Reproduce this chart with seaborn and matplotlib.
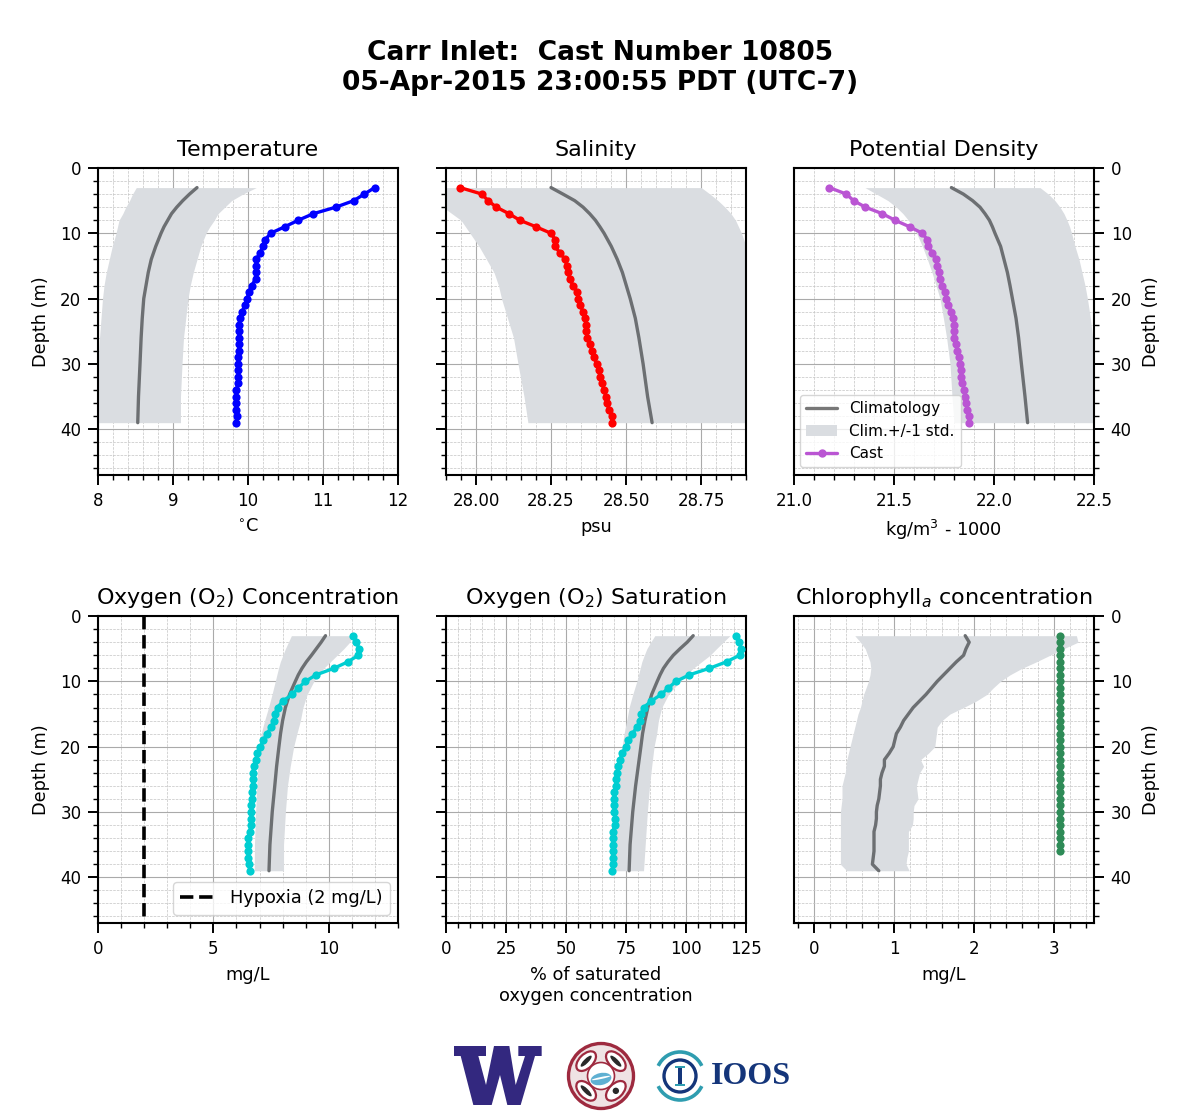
import numpy as np
import matplotlib
matplotlib.use("Agg")
import matplotlib.pyplot as plt
from matplotlib.patches import Circle, Arc, Rectangle, Polygon, Ellipse
from matplotlib.ticker import MultipleLocator, FormatStrFormatter
import seaborn as sns

sns.set_theme(style="ticks")
plt.rcParams['font.family'] = ['DejaVu Sans']
plt.rcParams['mathtext.default'] = 'regular'

cast_depth = list(range(3, 40))
chl_depth = list(range(3, 37))
clim_d = [3, 4, 5, 6, 7, 8, 9, 10, 12, 14, 16, 18, 20, 23, 26, 30, 35, 39]

temp_cast = [11.69,11.55,11.41,11.17,10.87,10.67,10.49,10.30,10.23,10.20,10.16,10.11,10.11,10.10,10.10,10.05,10.01,9.99,9.96,9.92,9.89,9.88,9.88,9.88,9.88,9.88,9.87,9.87,9.87,9.87,9.87,9.84,9.84,9.84,9.84,9.85,9.84]
temp_clim = [9.32,9.22,9.13,9.05,8.98,8.93,8.88,8.84,8.77,8.71,8.67,8.64,8.61,8.59,8.575,8.56,8.54,8.53]
temp_low = [8.51,8.46,8.42,8.37,8.33,8.28,8.26,8.24,8.19,8.15,8.11,8.08,8.06,8.04,8.02,8.00,7.98,7.97]
temp_high = [10.11,9.93,9.78,9.69,9.60,9.55,9.49,9.44,9.37,9.32,9.27,9.23,9.20,9.17,9.14,9.12,9.10,9.10]

sal_cast = [27.947,28.02,28.04,28.068,28.11,28.146,28.20,28.25,28.264,28.263,28.28,28.297,28.303,28.307,28.313,28.323,28.337,28.341,28.347,28.357,28.362,28.367,28.367,28.37,28.38,28.387,28.393,28.403,28.41,28.413,28.42,28.427,28.433,28.437,28.443,28.453,28.453]
sal_clim = [28.25,28.29,28.329,28.357,28.379,28.398,28.413,28.427,28.451,28.471,28.488,28.501,28.514,28.531,28.543,28.557,28.572,28.587]
sal_low = [27.75,27.80,27.85,27.89,27.92,27.95,27.965,27.98,28.01,28.035,28.06,28.075,28.085,28.105,28.125,28.14,28.16,28.173]
sal_high = [28.751,28.78,28.807,28.83,28.85,28.865,28.875,28.885,28.90,28.93,28.95,28.97,29.0,29.03,29.05,29.08,29.1,29.1]

dens_cast = [21.177,21.262,21.298,21.357,21.442,21.505,21.578,21.642,21.667,21.672,21.692,21.71,21.717,21.723,21.728,21.742,21.757,21.762,21.772,21.787,21.797,21.802,21.802,21.802,21.812,21.817,21.827,21.832,21.837,21.837,21.842,21.852,21.857,21.862,21.867,21.877,21.877]
dens_clim = [21.787,21.847,21.893,21.93,21.955,21.977,21.992,22.005,22.033,22.05,22.067,22.08,22.092,22.11,22.123,22.137,22.155,22.168]
dens_low = [21.355,21.413,21.47,21.512,21.545,21.572,21.595,21.613,21.642,21.667,21.69,21.71,21.73,21.747,21.763,21.78,21.79,21.80]
dens_high = [22.23,22.272,22.305,22.33,22.35,22.365,22.378,22.388,22.405,22.425,22.44,22.455,22.467,22.482,22.493,22.503,22.51,22.52]

oxy_cast = [11.04,11.19,11.32,11.28,10.83,10.22,9.45,8.99,8.68,8.42,8.01,7.78,7.67,7.61,7.51,7.32,7.17,7.04,6.91,6.83,6.74,6.71,6.70,6.70,6.68,6.67,6.65,6.65,6.64,6.62,6.57,6.52,6.52,6.52,6.52,6.54,6.57]
oxy_clim = [9.86,9.67,9.46,9.25,9.03,8.84,8.68,8.55,8.30,8.12,8.00,7.91,7.84,7.74,7.66,7.55,7.45,7.41]
oxy_low = [8.38,8.25,8.12,8.01,7.90,7.82,7.75,7.68,7.54,7.39,7.22,7.07,6.96,6.92,6.88,6.83,6.78,6.77]
oxy_high = [11.01,10.91,10.65,10.36,10.07,9.78,9.55,9.35,9.06,8.88,8.77,8.62,8.48,8.33,8.21,8.12,8.04,8.04]

sat_cast = [120.9,122.2,123.0,122.3,116.9,109.7,101.4,95.8,92.7,89.6,85.6,82.3,81.4,81.0,79.5,77.7,76.0,74.8,73.5,72.4,71.6,71.2,71.0,70.7,70.2,70.1,70.2,70.2,70.6,70.5,69.4,69.4,69.4,69.4,69.4,69.4,69.3]
sat_clim = [103.0,100.5,97.5,94.7,92.5,90.6,89.2,88.0,85.7,84.1,82.9,81.9,81.2,80.1,79.0,77.8,76.7,76.3]
sat_low = [87.0,85.3,83.7,82.6,81.6,80.9,80.2,79.5,77.8,76.3,75.3,74.2,73.4,72.5,71.7,70.9,70.2,69.8]
sat_high = [118.3,115.5,112.7,110.0,106.5,103.0,100.0,97.5,92.7,89.9,88.5,87.8,86.7,85.7,84.8,83.9,83.0,82.3]

chl_cast = [3.07] * 34
chl_clim_d = list(range(3, 40))
chl_clim = [1.89,1.94,1.90,1.87,1.78,1.70,1.62,1.54,1.47,1.40,1.32,1.24,1.18,1.12,1.08,1.03,1.01,0.99,0.94,0.88,0.88,0.85,0.83,0.83,0.82,0.81,0.79,0.78,0.78,0.77,0.75,0.75,0.75,0.75,0.74,0.73,0.81]
chl_low = [0.51,0.58,0.64,0.67,0.70,0.71,0.70,0.68,0.65,0.62,0.60,0.58,0.55,0.53,0.51,0.49,0.47,0.45,0.43,0.41,0.40,0.39,0.37,0.35,0.35,0.35,0.34,0.33,0.33,0.33,0.33,0.33,0.33,0.33,0.33,0.33,0.41]
chl_high = [3.28,3.30,3.12,2.95,2.78,2.60,2.45,2.33,2.24,2.16,2.03,1.87,1.70,1.60,1.54,1.53,1.52,1.51,1.43,1.33,1.37,1.32,1.30,1.28,1.29,1.30,1.25,1.24,1.24,1.23,1.18,1.18,1.18,1.18,1.16,1.15,1.19]

hypoxia_x = [2, 2]
hypoxia_y = [0, 47]

titles = ['Temperature', 'Salinity', 'Potential Density',
          'Oxygen (O$_2$) Concentration', 'Oxygen (O$_2$) Saturation',
          'Chlorophyll$_{\\mathit{a}}$ concentration']
xlabels = ['$^{\\circ}$C', 'psu', 'kg/m$^3$ - 1000', 'mg/L',
           '% of saturated\noxygen concentration', 'mg/L']
suptitle = 'Carr Inlet:  Cast Number 10805\n05-Apr-2015 23:00:55 PDT (UTC-7)'

BAND = '#dadde1'
CLIM = '#6c6f72'

panels = [
    (cast_depth, temp_cast, clim_d, temp_clim, clim_d, temp_low, temp_high, 'blue', (8, 12), 1, 0.2, '%d'),
    (cast_depth, sal_cast, clim_d, sal_clim, clim_d, sal_low, sal_high, 'red', (27.9, 28.9), 0.25, 0.05, '%.2f'),
    (cast_depth, dens_cast, clim_d, dens_clim, clim_d, dens_low, dens_high, 'mediumorchid', (21, 22.5), 0.5, 0.1, '%.1f'),
    (cast_depth, oxy_cast, clim_d, oxy_clim, clim_d, oxy_low, oxy_high, 'darkturquoise', (0, 13), 5, 1, '%d'),
    (cast_depth, sat_cast, clim_d, sat_clim, clim_d, sat_low, sat_high, 'darkturquoise', (0, 125), 25, 5, '%d'),
    (chl_depth, chl_cast, chl_clim_d, chl_clim, chl_clim_d, chl_low, chl_high, 'seagreen', (-0.25, 3.5), 1, 0.2, '%d'),
]

fig, axes = plt.subplots(2, 3, figsize=(12, 11.2), dpi=100)
fig.subplots_adjust(left=98/1200, right=1094/1200, top=1-168/1120, bottom=1-923/1120,
                    wspace=0.16, hspace=0.46)

for i, (ax, p) in enumerate(zip(axes.flat, panels)):
    d, v, cd, cv, bd, lo, hi, col, xlim, maj, mnr, fmt = p
    ax.fill_betweenx(bd, lo, hi, color=BAND, lw=0, zorder=1)
    sns.lineplot(x=cv, y=cd, ax=ax, sort=False, estimator=None, color=CLIM, lw=2.4, zorder=3,
                 legend=False)
    sns.lineplot(x=v, y=d, ax=ax, sort=False, estimator=None, color=col, lw=2.4, marker='o',
                 markersize=5.9, markeredgecolor=col, markeredgewidth=0, zorder=4, legend=False)
    ax.set_xlim(*xlim)
    ax.set_ylim(47, 0)
    ax.xaxis.set_major_locator(MultipleLocator(maj))
    ax.xaxis.set_minor_locator(MultipleLocator(mnr))
    ax.xaxis.set_major_formatter(FormatStrFormatter(fmt))
    ax.yaxis.set_major_locator(MultipleLocator(10))
    ax.yaxis.set_minor_locator(MultipleLocator(2))
    ax.grid(True, which='major', color='#aaaaaa', lw=0.8, ls='-', zorder=2)
    ax.grid(True, which='minor', color='#c4c4c4', lw=0.5, ls='--', zorder=2)
    ax.set_axisbelow(True)
    ax.tick_params(axis='both', which='major', direction='out', length=7, width=1.4,
                   labelsize=12, color='black', labelcolor='black', pad=5)
    ax.tick_params(axis='both', which='minor', direction='out', length=3.5, width=1.0, color='black')
    for s in ax.spines.values():
        s.set_visible(True)
        s.set_color('black')
        s.set_linewidth(1.5)
    ax.set_title(titles[i], fontsize=16, pad=9, color='black')
    ax.set_xlabel(xlabels[i], fontsize=12.8, labelpad=6, color='black')
    ax.set_ylabel('')
    if i % 3 == 0:
        ax.set_ylabel('Depth (m)', fontsize=12.8, labelpad=7, color='black')
    elif i % 3 == 1:
        ax.tick_params(axis='y', labelleft=False)
    else:
        ax.yaxis.tick_right()
        ax.yaxis.set_label_position('right')
        ax.set_ylabel('Depth (m)', fontsize=12.8, labelpad=7, color='black')
        ax.tick_params(axis='y', which='both', left=False, right=True)

# Legends
ax = axes[0, 2]
h_clim = plt.Line2D([], [], color='#777777', lw=2.4)
h_band = Rectangle((0, 0), 1, 1, color=BAND, lw=0)
h_cast = plt.Line2D([], [], color='mediumorchid', lw=2.4, marker='o', markersize=5)
leg = ax.legend([h_clim, h_band, h_cast], ['Climatology', 'Clim.+/-1 std.', 'Cast'],
                loc='lower left', fontsize=11, frameon=True, framealpha=0.8,
                bbox_to_anchor=(0.006, 0.01), borderaxespad=0.3, labelcolor='black')
leg.set_zorder(6)

ax = axes[1, 0]
sns.lineplot(x=hypoxia_x, y=hypoxia_y, ax=ax, sort=False, estimator=None, color='black', lw=2.6,
             linestyle='--', zorder=5, legend=False)
ax.set_ylim(47, 0)
h_hyp = plt.Line2D([], [], color='black', lw=2.6, ls='--')
leg2 = ax.legend([h_hyp], ['Hypoxia (2 mg/L)'], loc='lower right', fontsize=12.8, frameon=True,
                 framealpha=0.8, bbox_to_anchor=(0.99, 0.01), borderaxespad=0.3, labelcolor='black')

fig.suptitle(suptitle, fontsize=19.1, fontweight='bold', color='black', y=1-40/1120, va='top',
             linespacing=1.19)

# Logos, drawn in an overlay whose units are image pixels
lg = fig.add_axes([0, 0, 1, 1], zorder=10)
lg.set_xlim(0, 1200)
lg.set_ylim(1120, 0)
lg.axis('off')
lg.patch.set_alpha(0)

w_zoom = [(12,18),(108,18),(108,48),(85,48),(108,135),(132,18),(178,18),(197,135),(225,48),(205,48),
          (205,18),(275,18),(275,48),(255,48),(212,195),(172,195),(150,105),(125,195),(70,195),
          (32,48),(12,48)]
lg.add_patch(Polygon([(450 + x/3, 1040 + y/3) for x, y in w_zoom], closed=True, fc='#33287f', ec='none'))

maroon = '#9e2a3f'
cx, cy = 601, 1076
lg.add_patch(Circle((cx, cy), 32.5, fc='#efe3e4', ec=maroon, lw=2.4))
for ang in (45, 135, 225, 315):
    a = np.radians(ang)
    lg.add_patch(Ellipse((cx + 21*np.cos(a), cy + 21*np.sin(a)), 14, 24, angle=ang,
                         fc='white', ec=maroon, lw=1.6))
    if ang == 45:
        lg.add_patch(Circle((cx + 21*np.cos(a), cy + 21*np.sin(a)), 3.2, fc='#2a2a2a', ec='none'))
    else:
        lg.add_patch(Ellipse((cx + 21*np.cos(a), cy + 21*np.sin(a)), 4.5, 15, angle=ang,
                             fc='#2a2a2a', ec='none'))
lg.add_patch(Circle((cx, cy), 13.5, fc='white', ec=maroon, lw=1.2))
lg.add_patch(Ellipse((cx, cy + 3), 21, 12, angle=-12, fc='#5fb0d2', ec='none'))
lg.add_patch(Ellipse((cx, cy + 2), 19, 2, angle=-12, fc='white', ec='none'))

teal = '#2f9db0'
navy = '#14357a'
ix, iy = 680, 1076
lg.add_patch(Arc((ix, iy), 48, 48, theta1=205, theta2=335, ec=teal, lw=2.6))
lg.add_patch(Arc((ix, iy), 48, 48, theta1=25, theta2=155, ec=teal, lw=2.6))
lg.add_patch(Circle((ix, iy), 16, fc='white', ec=navy, lw=2.4))
lg.add_patch(Rectangle((ix-2, iy-9), 4, 18, fc=navy, ec='none'))
lg.add_patch(Rectangle((ix-5, iy-10), 10, 2.2, fc=teal, ec='none'))
lg.add_patch(Rectangle((ix-5, iy+8), 10, 2.2, fc=teal, ec='none'))
lg.text(751, 1076, 'IOOS', family='Liberation Serif', fontweight='bold', fontsize=23, color=navy,
        ha='center', va='center')

fig.savefig('out.png', dpi=100, facecolor='white')
